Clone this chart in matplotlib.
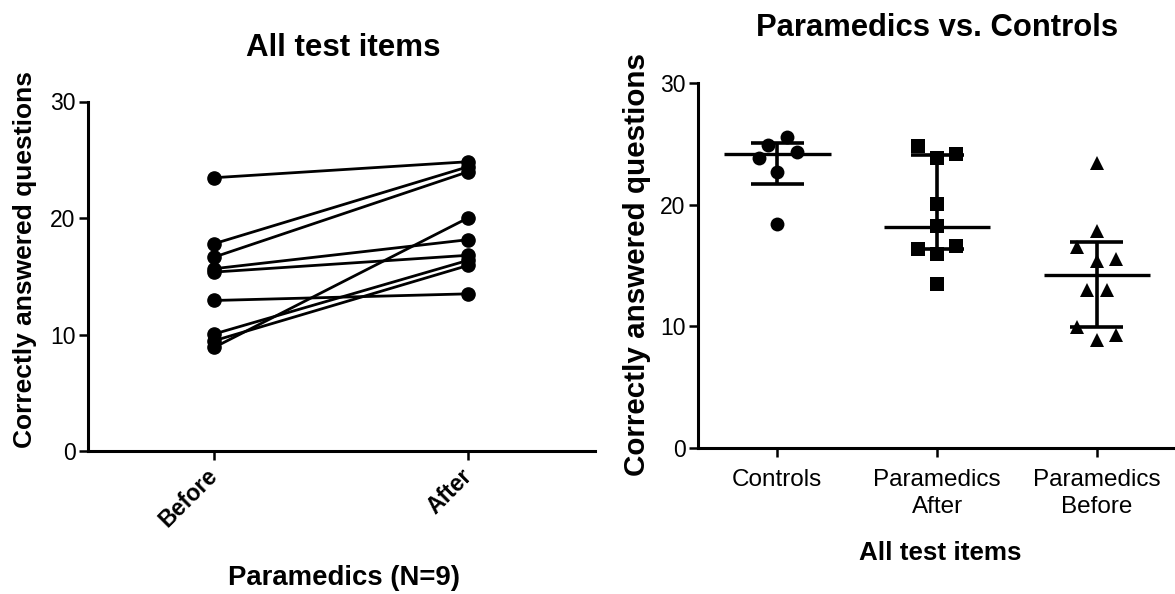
import matplotlib
matplotlib.use("Agg")
import matplotlib.pyplot as plt

plt.rcParams['font.family'] = ['Liberation Sans', 'DejaVu Sans']

# ---------------- data ----------------
# Left panel: paired scores (paramedics, N=9)
pair_labels = ["Before", "After"]
para_before = [23.46, 17.8, 16.65, 15.65, 15.36, 12.92, 8.9, 10.05, 9.47]
para_after = [24.83, 24.4, 23.97, 18.14, 16.8, 13.49, 20.01, 16.37, 15.93]

# Right panel: group comparison
group_labels = ["Controls", "Paramedics\nAfter", "Paramedics\nBefore"]
controls_vals = [23.86, 24.95, 25.55, 24.35, 22.69, 18.41]
controls_jit = [-0.118, -0.059, 0.063, 0.12, 0.0, 0.0]
after_vals = [24.8, 23.86, 24.19, 20.05, 18.27, 16.36, 16.64, 15.95, 13.5]
after_jit = [-0.12, 0.0, 0.12, 0.0, 0.0, -0.12, 0.12, 0.0, 0.0]
before_vals = [23.45, 17.86, 16.5, 15.54, 15.41, 12.95, 12.95, 9.95, 8.86, 9.27]
before_jit = [0.0, 0.0, -0.122, 0.122, 0.0, -0.059, 0.063, -0.122, 0.0, 0.122]
group_center = [24.2, 18.2, 14.24]
group_low = [21.68, 16.36, 9.95]
group_high = [25.06, 24.13, 16.96]

yticks = [0, 10, 20, 30]

# ---------------- figure ----------------
W, H = 1175, 594
fig = plt.figure(figsize=(W / 100, H / 100), dpi=100)

def px_axes(l, r, b, t):
    return fig.add_axes([l / W, 1 - b / H, (r - l) / W, (b - t) / H])

ax1 = px_axes(87.5, 595, 451, 101.5)
ax2 = px_axes(697.5, 1175, 447.7, 83.3)

for ax in (ax1, ax2):
    for s in ("top", "right"):
        ax.spines[s].set_visible(False)
    for s in ("left", "bottom"):
        ax.spines[s].set_linewidth(2.2)
    ax.set_ylim(0, 30)
    ax.set_yticks(yticks)
    ax.tick_params(axis='both', width=1.8, length=6.5, color='black')
    ax.tick_params(axis='y', pad=2, labelsize=16.5)

# ----- left panel -----
xpos = list(range(len(pair_labels)))
for b, a in zip(para_before, para_after):
    ax1.plot(xpos, [b, a], color='black', lw=2.0, marker='o', ms=9.5,
             solid_capstyle='round', zorder=3)
ax1.set_xlim(-0.5, 1.5)
ax1.set_xticks(xpos)
ax1.set_xticklabels(pair_labels, rotation=45, ha='right', va='center',
                    rotation_mode='anchor', fontsize=16.5, fontweight='bold')
ax1.tick_params(axis='x', pad=9)

# ----- right panel -----
groups = [(controls_vals, controls_jit, 'o', 10),
          (after_vals, after_jit, 's', 9.5),
          (before_vals, before_jit, '^', 10)]
for i, (vals, jit, mk, ms) in enumerate(groups):
    xs = [i + j for j in jit]
    ax2.plot(xs, vals, linestyle='none', marker=mk, ms=ms, color='black',
             markeredgewidth=0, zorder=3)
    ax2.hlines(group_center[i], i - 0.333, i + 0.333, color='black', lw=2.4, zorder=4)
    ax2.vlines(i, group_low[i], group_high[i], color='black', lw=2.6, zorder=4)
    ax2.hlines([group_low[i], group_high[i]], i - 0.166, i + 0.166,
               color='black', lw=2.6, zorder=4)
ax2.set_xlim(-0.5, 2.49)
ax2.set_xticks(range(len(group_labels)))
ax2.set_xticklabels(group_labels, fontsize=17.5, linespacing=1.3)
ax2.tick_params(axis='x', pad=9)

# ----- titles and axis labels -----
def ftext(x, y, s, **kw):
    fig.text(x / W, 1 - y / H, s, **kw)

ftext(343, 48, "All test items", ha='center', va='center', fontsize=22.5, fontweight='bold')
ftext(937, 28, "Paramedics vs. Controls", ha='center', va='center', fontsize=22.3, fontweight='bold')
ftext(25, 260, "Correctly answered questions", rotation=90, ha='center', va='center',
      fontsize=19, fontweight='bold')
ftext(637, 265, "Correctly answered questions", rotation=90, ha='center', va='center',
      fontsize=21.3, fontweight='bold')
ftext(344, 578, "Paramedics (N=9)", ha='center', va='center', fontsize=19.8, fontweight='bold')
ftext(940, 553, "All test items", ha='center', va='center', fontsize=18.7, fontweight='bold')

fig.savefig("out.png", dpi=100)
